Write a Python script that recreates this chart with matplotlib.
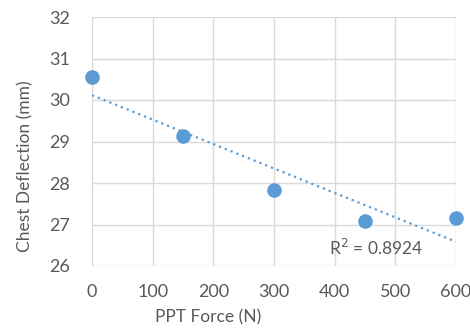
import matplotlib.pyplot as plt
import numpy as np

plt.rcParams['font.family'] = ['Lato', 'DejaVu Sans']

force = [0, 150, 300, 450, 600]
deflection = [30.55, 29.13, 27.83, 27.08, 27.16]
r2_text = "R$^2$ = 0.8924"

blue = "#5B9BD5"
grey = "#595959"

fig = plt.figure(figsize=(4.7, 3.31), dpi=100)
ax = fig.add_axes([92/470, 1-266/331, (456-92)/470, (266-17)/331])

ax.scatter(force, deflection, s=90, color=blue, zorder=3, clip_on=False)

# linear trendline
k, b = np.polyfit(force, deflection, 1)
xs = np.array([min(force), max(force)])
ax.plot(xs, k*xs + b, color=blue, lw=1.6, ls=(0, (1, 1.8)), zorder=2)

ax.text(390, 26.43, r2_text, fontsize=12.5, color=grey, va="center", ha="left")

ax.set_xlim(0, 600)
ax.set_ylim(26, 32)
ax.set_xticks(range(0, 601, 100))
ax.set_yticks(range(26, 33))
ax.grid(color="#d9d9d9", lw=1)
ax.set_axisbelow(True)
for s in ax.spines.values():
    s.set_visible(False)
ax.tick_params(length=0, labelsize=13, colors=grey)
ax.tick_params(axis="x", pad=13)
ax.tick_params(axis="y", pad=16)

ax.set_xlabel("PPT Force (N)", fontsize=12.5, color=grey)
ax.xaxis.set_label_coords((208-92)/364, -(309-266)/249)
ax.set_ylabel("Chest Deflection (mm)", fontsize=12.5, color=grey)
ax.yaxis.set_label_coords(-(92-33)/364, 1-(166-17)/249)

fig.savefig("out.png", dpi=100)
